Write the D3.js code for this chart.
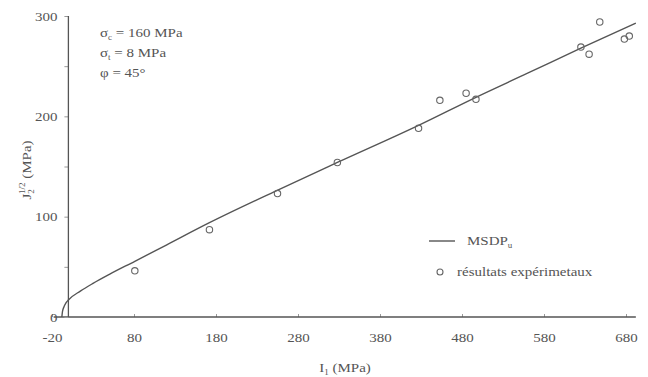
<!DOCTYPE html>
<html><head><meta charset="utf-8">
<script src="https://cdn.jsdelivr.net/npm/d3@7"></script>
<style>body{margin:0;background:#fff}svg{display:block}</style>
</head><body>
<svg id="c" width="648" height="377"></svg>
<script>
// Data
const xTickLabels = [-20, 80, 180, 280, 380, 480, 580, 680];
const yTickValues = [0, 50, 100, 150, 200, 250, 300];
const yTickLabels = [0, 100, 200, 300];
// MSDP_u criterion curve (I1, J2^1/2)
const curveI1 = [-8, -7.3, -5.5, -3, 0, 15, 30, 50, 81, 120, 172, 254, 328, 427, 497, 560, 625, 692];
const curveJ  = [0, 5, 10, 14, 17, 26, 33.5, 42.5, 55.5, 72, 94, 126, 154, 191, 219, 243, 268, 293];
// Experimental results
const expI1 = [81, 172, 255, 328, 427, 453, 485, 497, 625, 635, 648, 678, 684];
const expJ  = [46, 87, 123, 154, 188, 216, 223, 217, 269, 262, 294, 277, 280];
const paramLabels = [["σ","c"," = 160 MPa"],["σ","t"," = 8 MPa"],["φ",""," = 45°"]];

const svg = d3.select("#c");
const font = "'Liberation Serif', 'Times New Roman', serif";
const fs = "12.5px", sub = "7.5px";
const SX = 1.2; // horizontal stretch of the scanned lettering
const ink = "#555";
const x = d3.scaleLinear().domain([-20, 680]).range([52, 626]);
const y = d3.scaleLinear().domain([0, 300]).range([317, 16]);

// X axis
const xAxis = svg.append("g").attr("transform", `translate(0,${y(0)})`)
  .call(d3.axisBottom(x).tickValues(xTickLabels).tickFormat(d => String(d))
    .tickSizeInner(-3).tickSizeOuter(0).tickPadding(16));
xAxis.select(".domain").remove();
xAxis.append("line").attr("x1", x(-18)).attr("x2", x(692)).attr("stroke", ink).attr("stroke-width", 1.3);
xAxis.selectAll(".tick line").attr("stroke", "#999");
xAxis.selectAll(".tick text").attr("fill", "#555").attr("transform", `scale(${SX},1)`)
  .style("font-family", font).style("font-size", fs);

// Y axis
const yAxis = svg.append("g").attr("transform", `translate(${x(0)},0)`)
  .call(d3.axisLeft(y).tickValues(yTickValues).tickSizeInner(4).tickSizeOuter(0).tickPadding(5)
    .tickFormat(d => yTickLabels.includes(d) ? String(d) : ""));
yAxis.select(".domain").remove();
yAxis.append("line").attr("y1", y(0)).attr("y2", y(300)).attr("stroke", ink).attr("stroke-width", 1.3);
yAxis.selectAll(".tick line").attr("stroke", "#999");
yAxis.selectAll(".tick text").attr("fill", "#555").attr("transform", `scale(${SX},1)`)
  .style("font-family", font).style("font-size", fs);

// Curve
const pts = curveI1.map((v, i) => [v, curveJ[i]]);
svg.append("path").datum(pts)
  .attr("d", d3.line().x(d => x(d[0])).y(d => y(d[1])).curve(d3.curveMonotoneX))
  .attr("fill", "none").attr("stroke", "#555").attr("stroke-width", 1.4);

// Experimental points
svg.selectAll("circle.exp").data(expI1).enter().append("circle")
  .attr("class", "exp")
  .attr("cx", d => x(d)).attr("cy", (d, i) => y(expJ[i])).attr("r", 3.2)
  .attr("fill", "none").attr("stroke", "#666").attr("stroke-width", 1.1);

function label(tx, ty, rot) {
  return svg.append("text")
    .attr("transform", `translate(${tx},${ty})${rot ? " rotate(" + rot + ")" : ""} scale(${SX},1)`)
    .attr("fill", "#555").style("font-family", font).style("font-size", fs);
}

// Parameter annotations
paramLabels.forEach((p, i) => {
  const t = label(100, 37 + i * 20);
  t.append("tspan").text(p[0]);
  if (p[1]) t.append("tspan").attr("dy", 3).style("font-size", sub).text(p[1]);
  t.append("tspan").attr("dy", p[1] ? -3 : 0).text(p[2]);
});

// Legend
svg.append("line").attr("x1", 429).attr("x2", 455).attr("y1", 241).attr("y2", 241)
  .attr("stroke", "#555").attr("stroke-width", 1.4);
const lt = label(467, 245);
lt.append("tspan").text("MSDP");
lt.append("tspan").attr("dy", 3).style("font-size", sub).text("u");
svg.append("circle").attr("cx", 440).attr("cy", 272).attr("r", 3)
  .attr("fill", "none").attr("stroke", "#666").attr("stroke-width", 1.1);
label(457, 276).text("résultats expérimetaux");

// Axis titles
const xt = label(345, 372).attr("text-anchor", "middle");
xt.append("tspan").text("I");
xt.append("tspan").attr("dy", 3).style("font-size", sub).text("1");
xt.append("tspan").attr("dy", -3).text(" (MPa)");

const yt = label(31, 170, -90).attr("text-anchor", "middle");
yt.append("tspan").text("J");
yt.append("tspan").attr("dy", 3).style("font-size", sub).text("2");
yt.append("tspan").attr("dx", -4).attr("dy", -9).style("font-size", sub).text("1/2");
yt.append("tspan").attr("dy", 6).text(" (MPa)");
</script>
</body></html>
